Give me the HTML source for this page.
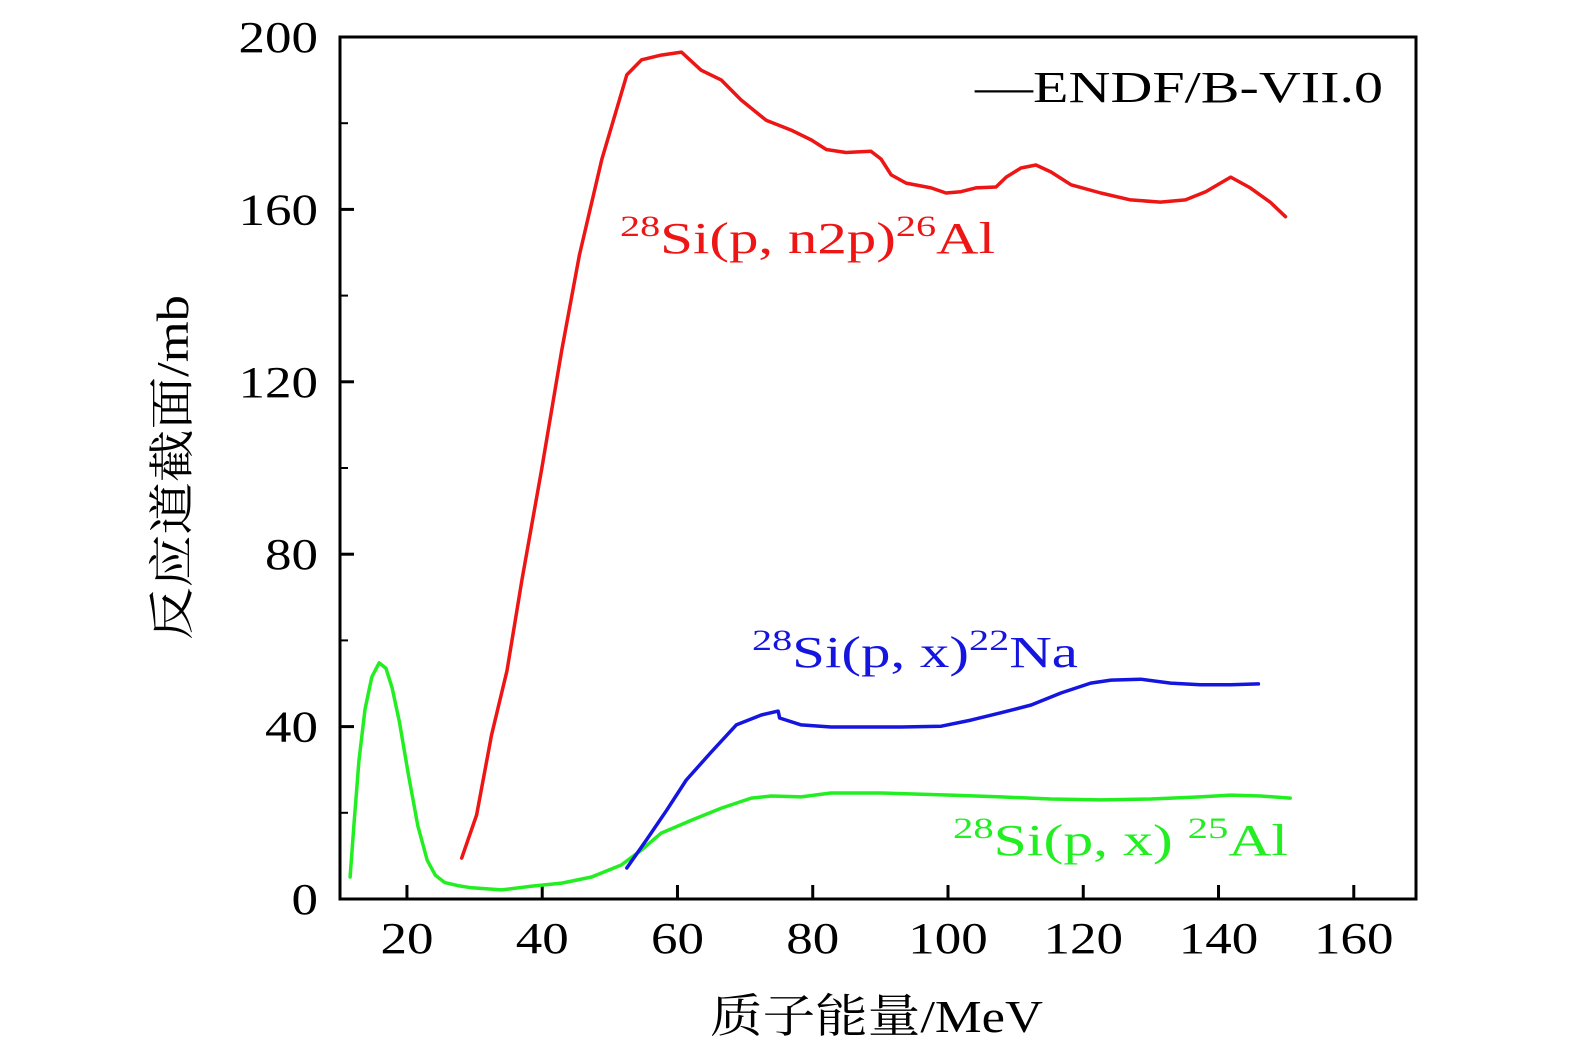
<!DOCTYPE html>
<html><head><meta charset="utf-8"><style>
html,body{margin:0;padding:0;background:#fff;}
svg{display:block;}
text{font-family:"Liberation Serif","Noto Serif CJK SC",serif;}
</style></head><body>
<svg id="chart" width="1575" height="1063" viewBox="0 0 1575 1063" xmlns="http://www.w3.org/2000/svg"></svg>
<script>
const xTicks=[20,40,60,80,100,120,140,160];
const yTicks=[0,40,80,120,160,200];
const yMinor=[20,60,100,140,180];
const redX=[28.1,30.3,32.5,34.8,37.0,39.9,42.9,45.5,48.8,52.5,54.7,57.6,60.6,63.5,66.5,69.4,73.1,76.8,79.8,82.0,84.9,88.6,90.1,91.6,93.8,97.5,99.7,101.9,104.1,107.1,108.6,110.8,113.0,115.2,118.2,122.6,127.0,131.4,135.1,138.1,141.8,144.7,147.7,149.9];
const redY=[9.5,19.5,38,53,74,99.5,127.4,149.4,171.5,191.2,194.7,195.8,196.5,192.3,190,185.4,180.7,178.4,176.1,173.9,173.2,173.5,171.7,168,166.1,165,163.8,164.1,165,165.2,167.5,169.6,170.3,168.7,165.7,163.8,162.2,161.7,162.2,164.1,167.5,165,161.6,158.3];
const blueX=[52.5,55.4,58.4,61.3,65.0,68.7,72.4,74.9,75.1,78.3,82.7,88.6,93.1,99.0,103.4,107.8,112.3,116.7,121.1,124.1,128.5,132.9,137.3,141.8,145.9];
const blueY=[7.2,13.7,20.6,27.6,34.1,40.4,42.7,43.6,42,40.4,39.9,39.9,39.9,40.1,41.5,43.2,45,47.8,50.1,50.8,51,50.1,49.7,49.7,49.9];
const greenX=[11.6,12.2,12.9,13.8,14.8,15.9,16.9,17.8,18.9,20.2,21.6,23.0,24.2,25.6,27.5,29.6,34.0,38.5,42.9,47.3,51.7,54.7,57.6,62.1,66.5,70.9,73.9,78.3,82.7,90.1,100.4,107.8,115.2,122.6,130.0,137.3,141.8,146.2,150.6];
const greenY=[5.1,18,32,44,51.5,54.8,53.5,49,41,29,17,9,5.5,3.8,3.1,2.6,2.1,3,3.7,5.1,7.9,11.4,15.3,18.3,21.1,23.4,23.9,23.7,24.6,24.6,24.1,23.7,23.2,23,23.2,23.7,24.1,23.9,23.4];

const L=340,R=1416,T=37,B=899;
const xMin=10.1,xMax=169.2,yMin=0,yMax=200;
const sx=v=>L+(v-xMin)/(xMax-xMin)*(R-L);
const sy=v=>B-(v-yMin)/(yMax-yMin)*(B-T);
const svg=document.getElementById('chart');
const NS='http://www.w3.org/2000/svg';
function mk(tag,attrs){const e=document.createElementNS(NS,tag);for(const k in attrs)e.setAttribute(k,attrs[k]);svg.appendChild(e);return e;}

const frame=mk('rect',{x:L,y:T,width:R-L,height:B-T,fill:'none',stroke:'#000','stroke-width':3});



xTicks.forEach(v=>{
  const t=mk('line',{x1:sx(v),x2:sx(v),y1:B,y2:B-14,stroke:'#000','stroke-width':3});
  
  
  const s=String(v);
  const l=mk('text',{x:sx(v),y:953,'font-size':44,'text-anchor':'middle',textLength:s.length*26.5,lengthAdjust:'spacingAndGlyphs'});
  l.textContent=s;
  
  
});
yTicks.forEach(v=>{
  const t=mk('line',{x1:L,x2:L+14,y1:sy(v),y2:sy(v),stroke:'#000','stroke-width':3});
  
  
  const s=String(v);
  const l=mk('text',{x:318,y:sy(v)+15,'font-size':44,'text-anchor':'end',textLength:s.length*26.5,lengthAdjust:'spacingAndGlyphs'});
  l.textContent=s;
  
  
});
yMinor.forEach(v=>{
  const t=mk('line',{x1:L,x2:L+8,y1:sy(v),y2:sy(v),stroke:'#000','stroke-width':2});
  
  
});

function series(xs,ys,color,name){
  const pts=xs.map((x,i)=>sx(x).toFixed(1)+','+sy(ys[i]).toFixed(1)).join(' ');
  const p=mk('polyline',{points:pts,fill:'none',stroke:color,'stroke-width':3.5,'stroke-linejoin':'round','stroke-linecap':'round'});
  
  
}
series(greenX,greenY,'#22ee22','series-25al');
series(blueX,blueY,'#1515e0','series-22na');
series(redX,redY,'#ee1515','series-26al');

function label(x,y,color,html,name,w){
  const t=mk('text',{x:x,y:y,'font-size':44,fill:color,textLength:w,lengthAdjust:'spacingAndGlyphs'});
  t.innerHTML=html;
  
  
}
label(620,253,'#ee1515','<tspan font-size="30" dy="-17">28</tspan><tspan dy="17">Si(p, n2p)</tspan><tspan font-size="30" dy="-17">26</tspan><tspan dy="17">Al</tspan>','label-26al',375);
label(752,667,'#1515e0','<tspan font-size="30" dy="-17">28</tspan><tspan dy="17">Si(p, x)</tspan><tspan font-size="30" dy="-17">22</tspan><tspan dy="17">Na</tspan>','label-22na',326);
label(953,855,'#22ee22','<tspan font-size="30" dy="-17">28</tspan><tspan dy="17">Si(p, x) </tspan><tspan font-size="30" dy="-17">25</tspan><tspan dy="17">Al</tspan>','label-25al',335);
label(975,102,'#000','—ENDF/B-VII.0','legend-endf',408);

const xt=mk('text',{x:710,y:1032,'font-size':46,textLength:333,lengthAdjust:'spacingAndGlyphs'});
xt.textContent='质子能量/MeV';


const yt=mk('text',{x:0,y:0,'font-size':46,textLength:345,lengthAdjust:'spacingAndGlyphs',transform:'translate(188,640) rotate(-90)'});
yt.textContent='反应道截面/mb';


</script>
</body></html>
